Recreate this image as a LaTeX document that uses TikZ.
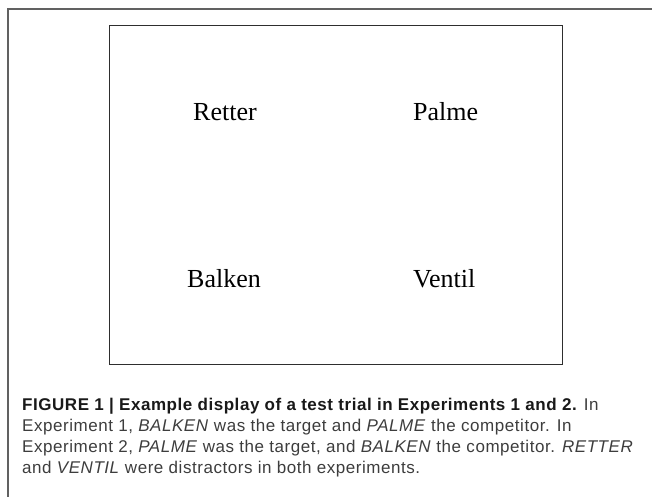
\documentclass[tikz,border=0pt]{standalone}
\usepackage{fontspec}
\setmainfont{Liberation Serif}
\newfontfamily\capfont[LetterSpace=3.2]{Liberation Sans}
\tikzset{
  frameline/.style={draw=black!62, line width=1.3pt},
  boxline/.style={draw=black!82, line width=1pt},
  word/.style={anchor=base west, inner sep=0pt, font=\fontsize{26}{30}\selectfont, text=black},
  capline/.style={anchor=base west, inner sep=0pt, font=\capfont\fontsize{17}{20}\selectfont, text=black!76},
}
\begin{document}
\begin{tikzpicture}[x=1pt,y=-1pt]
\useasboundingbox (0,0) rectangle (652,496);
% outer frame
\coordinate (fa) at (8,9);
\coordinate (fb) at (660,9);
\coordinate (fc) at (8,500);
\draw[frameline] (fb) -- (fa) -- (fc);
% display box
\node[boxline, minimum width=453pt, minimum height=339.5pt, inner sep=0pt, anchor=north west] (box) at (108.5,24.5) {};
% words
\node[word] (retter) at (193,120) {Retter};
\node[word] (palme) at (413,120) {Palme};
\node[word] (balken) at (187,287) {Balken};
\node[word] (ventil) at (413,287) {Ventil};
% caption
\node[capline] (cap1) at (22,410) {\textbf{\color{black!90}FIGURE 1 | Example display of a test trial in Experiments 1 and 2.} In};
\node[capline] (cap2) at (22,431.5) {Experiment 1, \textit{BALKEN} was the target and \textit{PALME} the competitor. In};
\node[capline] (cap3) at (22,452.7) {Experiment 2, \textit{PALME} was the target, and \textit{BALKEN} the competitor. \textit{RETTER}};
\node[capline] (cap4) at (22,473.5) {and \textit{VENTIL} were distractors in both experiments.};
\end{tikzpicture}
\end{document}
